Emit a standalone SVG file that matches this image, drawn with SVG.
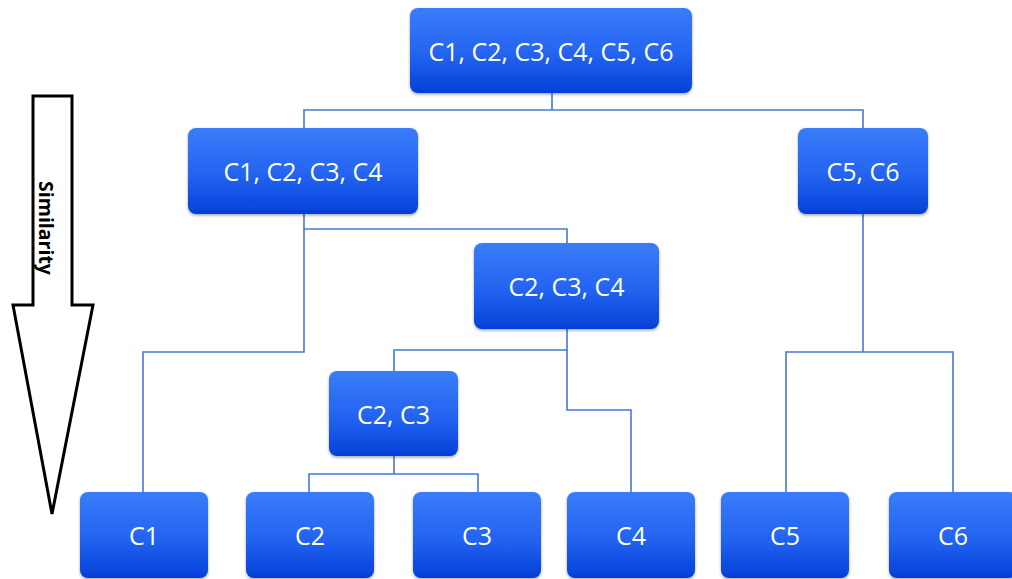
<svg xmlns="http://www.w3.org/2000/svg" width="1012" height="579" viewBox="0 0 1012 579">
<defs>
<linearGradient id="g" x1="0" y1="0" x2="0" y2="1">
<stop offset="0" stop-color="#3a7cf9"/>
<stop offset="0.55" stop-color="#2363f0"/>
<stop offset="1" stop-color="#0340d8"/>
</linearGradient>
<filter id="sh" x="-10%" y="-10%" width="120%" height="130%">
<feDropShadow dx="0" dy="1.5" stdDeviation="1.5" flood-color="#000" flood-opacity="0.35"/>
</filter>
<style>
.n rect{fill:url(#g);filter:url(#sh)}
.n text{fill:#fff;font-family:"Open Sans","Liberation Sans",sans-serif;font-size:25px;text-anchor:middle;dominant-baseline:central}
.c path{fill:none;stroke:#4479d8;stroke-width:1.6}
</style>
</defs>
<g id="arrow">
<polygon points="33,96 72,96 72,305 93,305 52,514 13,305 33,305" fill="#fff" stroke="#000" stroke-width="3" stroke-linejoin="miter"/>
<text x="46" y="228" transform="rotate(90 46 228)" font-family="'Open Sans','Liberation Sans',sans-serif" font-weight="bold" font-size="19.5" text-anchor="middle" dominant-baseline="central" fill="#000">Similarity</text>
</g>
<g class="c" id="connectors">
<path d="M552,93 V110 M304,128 V110 H863 V128"/>
<path d="M304,214 V229 H567 V243"/>
<path d="M304,229 V352 H143 V492"/>
<path d="M567,329 V350 H394 V371"/>
<path d="M567,350 V410 H631 V492"/>
<path d="M394,456 V474 M309,492 V474 H478 V492"/>
<path d="M863,214 V352 M786,492 V352 H953 V492"/>
</g>
<g class="n" id="n-all"><rect x="410" y="8" width="282" height="85" rx="8"/><text x="551" y="50.5">C1, C2, C3, C4, C5, C6</text></g>
<g class="n" id="n-c1234"><rect x="188" y="128" width="230" height="86" rx="8"/><text x="303" y="171">C1, C2, C3, C4</text></g>
<g class="n" id="n-c56"><rect x="798" y="128" width="130" height="86" rx="8"/><text x="863" y="171">C5, C6</text></g>
<g class="n" id="n-c234"><rect x="474" y="243" width="185" height="86" rx="8"/><text x="566.5" y="286">C2, C3, C4</text></g>
<g class="n" id="n-c23"><rect x="329" y="371" width="129" height="85" rx="8"/><text x="393.5" y="413.5">C2, C3</text></g>
<g class="n" id="n-c1"><rect x="80" y="492" width="128" height="86" rx="8"/><text x="144" y="535">C1</text></g>
<g class="n" id="n-c2"><rect x="246" y="492" width="128" height="86" rx="8"/><text x="310" y="535">C2</text></g>
<g class="n" id="n-c3"><rect x="413" y="492" width="128" height="86" rx="8"/><text x="477" y="535">C3</text></g>
<g class="n" id="n-c4"><rect x="567" y="492" width="128" height="86" rx="8"/><text x="631" y="535">C4</text></g>
<g class="n" id="n-c5"><rect x="721" y="492" width="128" height="86" rx="8"/><text x="785" y="535">C5</text></g>
<g class="n" id="n-c6"><rect x="889" y="492" width="128" height="86" rx="8"/><text x="953" y="535">C6</text></g>
</svg>
